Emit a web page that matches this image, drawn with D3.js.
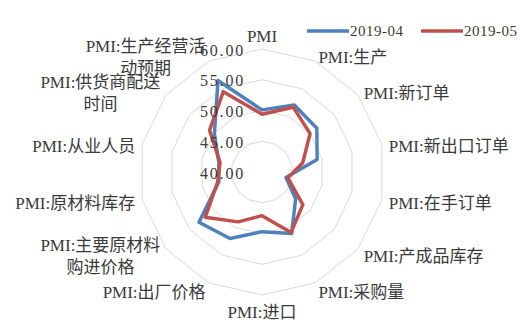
<!DOCTYPE html>
<html>
<head>
<meta charset="utf-8">
<script src="https://cdn.jsdelivr.net/npm/d3@7"></script>
<style>
  html, body { margin: 0; padding: 0; background: #fff; }
  svg { display: block; }
  text { fill: #3a3a3a; font-family: "Liberation Serif", "Noto Sans CJK SC", serif; }
</style>
</head>
<body>
<svg id="chart" width="521" height="324"></svg>
<script>
// PMI sub-indices, manufacturing, two consecutive months
const categories = [
  "PMI", "PMI:生产", "PMI:新订单", "PMI:新出口订单", "PMI:在手订单",
  "PMI:产成品库存", "PMI:采购量", "PMI:进口", "PMI:出厂价格",
  "PMI:主要原材料购进价格", "PMI:原材料库存", "PMI:从业人员",
  "PMI:供货商配送时间", "PMI:生产经营活动预期"
];
const seriesNames = ["2019-04", "2019-05"];
const values201904 = [50.1, 52.1, 51.4, 49.2, 44.0, 47.0, 51.1, 49.7, 52.0, 53.1, 47.2, 47.2, 49.9, 56.5];
const values201905 = [49.4, 51.7, 50.0, 46.8, 44.3, 48.5, 50.9, 47.1, 49.0, 51.8, 47.4, 47.0, 50.9, 54.5];
const tickValues = [40, 45, 50, 55, 60];
const tickLabels = ["40.00", "45.00", "50.00", "55.00", "60.00"];

const colors = ["#4F81BD", "#C0504D"];
const seriesValues = [values201904, values201905];

const svg = d3.select("#chart");
const cx = 262, cy = 172, R = 123;
const g = svg.append("g").attr("transform", `translate(${cx},${cy})`);

const n = categories.length;
const angle = d3.scaleLinear().domain([0, n]).range([0, 2 * Math.PI]);
const r = d3.scaleLinear().domain([40, 60]).range([0, R]);

const radial = d3.lineRadial()
  .angle((d, i) => angle(i))
  .radius(d => r(d))
  .curve(d3.curveLinearClosed);

// concentric 14-sided grid rings
g.append("g").selectAll("path")
  .data(tickValues.filter(t => t > 40))
  .join("path")
  .attr("d", t => radial(categories.map(() => t)))
  .attr("fill", "none")
  .attr("stroke", "#d9d9d9")
  .attr("stroke-width", 1);

// data series
g.append("g").selectAll("path")
  .data(seriesValues)
  .join("path")
  .attr("d", d => radial(d))
  .attr("fill", "none")
  .attr("stroke", (d, i) => colors[i])
  .attr("stroke-width", 3.5)
  .attr("stroke-linejoin", "round");

// value axis labels along the top spoke
g.append("g").selectAll("text")
  .data(tickValues)
  .join("text")
  .attr("x", -17)
  .attr("y", t => -r(t) + 1)
  .attr("dy", "0.35em")
  .attr("text-anchor", "end")
  .style("font-size", "16px")
  .style("letter-spacing", "1.8px")
  .text((t, i) => tickLabels[i]);

// category labels, wrapped at 9 characters
function wrap(s) {
  const lines = [];
  for (let i = 0; i < s.length; i += 9) lines.push(s.slice(i, i + 9));
  return lines;
}
const lineGap = 22;
const labelG = g.append("g");
categories.forEach((name, i) => {
  const a = angle(i);
  const [px, py] = d3.pointRadial(a, R + 7);
  const s = Math.sin(a), c = Math.cos(a);
  const lines = wrap(name);
  const t = labelG.append("text").style("font-size", "17px");
  let yc = py + 2.5;
  if (Math.abs(s) < 0.01) yc += (c > 0 ? -8 : 8);
  const y0 = yc - (lines.length - 1) * lineGap / 2;
  const spans = lines.map((ln, k) =>
    t.append("tspan").attr("y", y0 + k * lineGap).attr("dy", "0.35em").text(ln));
  if (Math.abs(s) < 0.01) {
    t.attr("text-anchor", "middle");
    spans.forEach(sp => sp.attr("x", px));
  } else if (lines.length > 1) {
    const w = spans[0].node().getComputedTextLength();
    const mid = s > 0 ? px + w / 2 : px - w / 2;
    t.attr("text-anchor", "middle");
    spans.forEach(sp => sp.attr("x", mid));
  } else {
    t.attr("text-anchor", s > 0 ? "start" : "end");
    spans.forEach(sp => sp.attr("x", px));
  }
});

// legend
const legend = svg.append("g").attr("transform", "translate(307,31)");
const items = legend.selectAll("g")
  .data(seriesNames)
  .join("g")
  .attr("transform", (d, i) => `translate(${i * 114},0)`);
items.append("line")
  .attr("x1", 0).attr("x2", 42).attr("y1", 0).attr("y2", 0)
  .attr("stroke", (d, i) => colors[i])
  .attr("stroke-width", 3.5);
items.append("text")
  .attr("x", 43).attr("y", 0).attr("dy", "0.35em")
  .style("font-size", "15px")
  .style("letter-spacing", "0.5px")
  .text(d => d);
</script>
</body>
</html>
